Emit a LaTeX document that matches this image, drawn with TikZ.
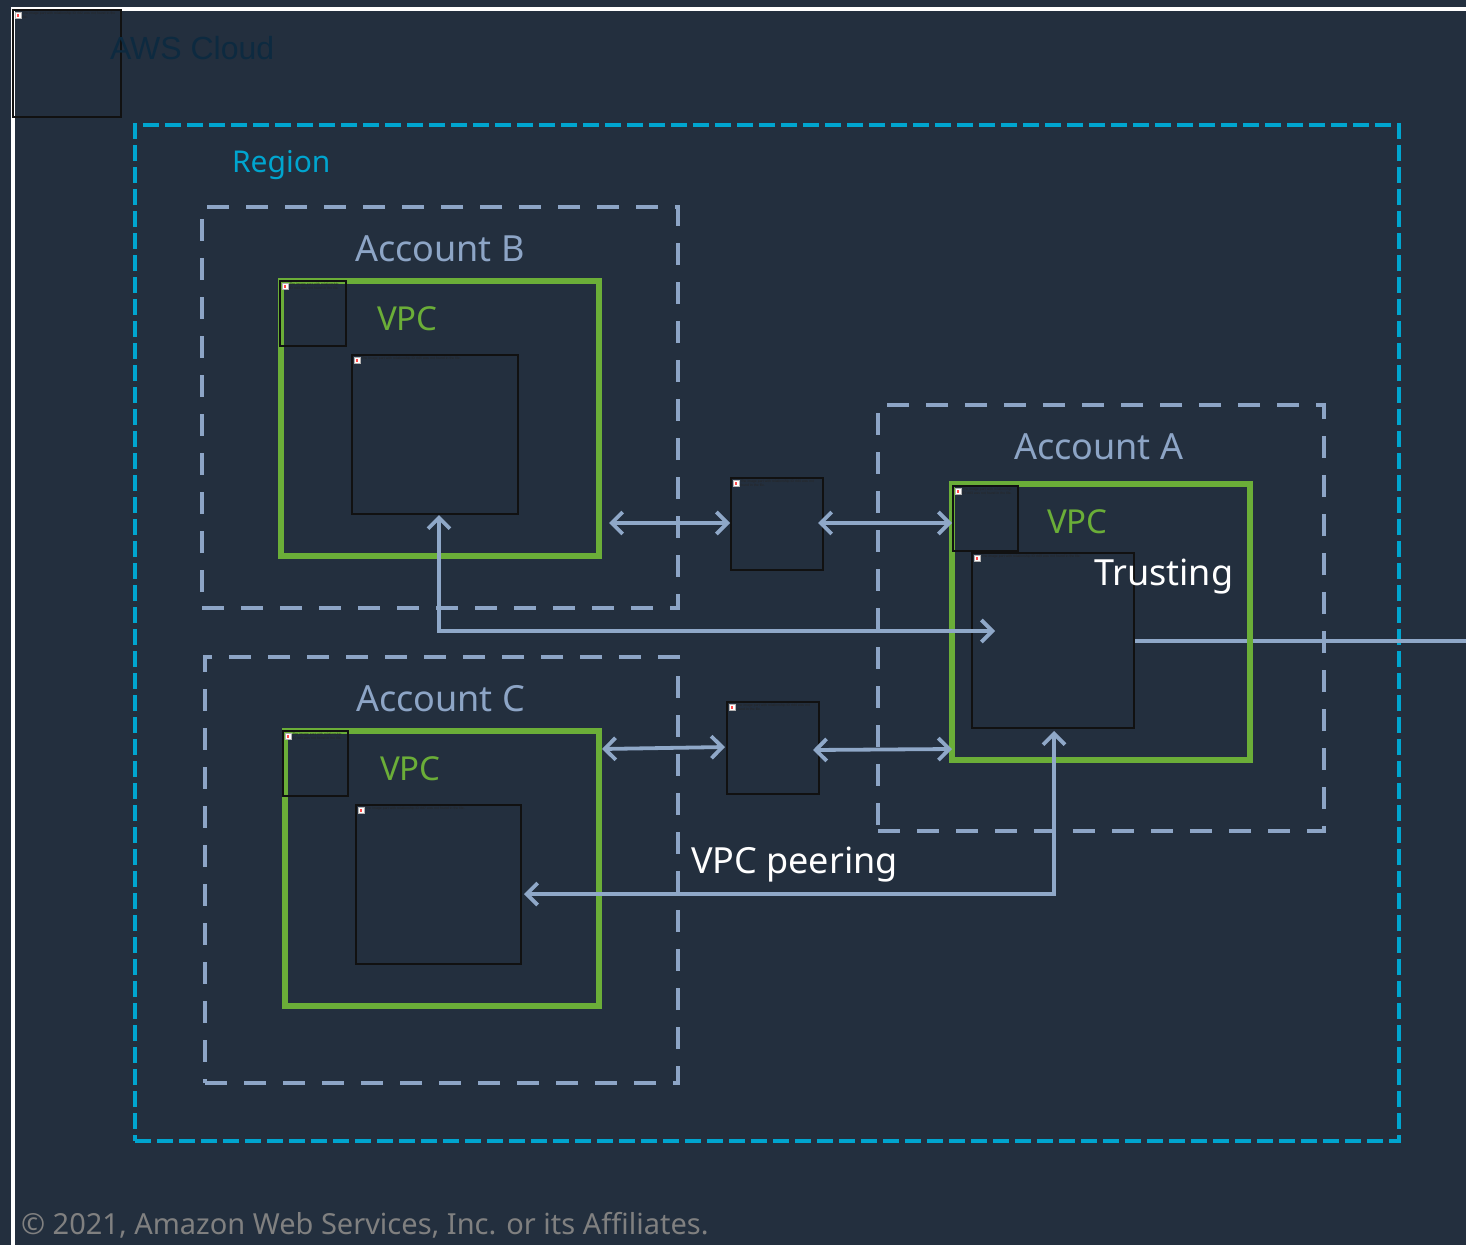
\documentclass[tikz,border=0pt]{standalone}
\usepackage{fontspec}
\usepackage{graphicx}
\setmainfont{Noto Sans}
\newfontfamily\arialf{Liberation Sans}
\usetikzlibrary{arrows.meta,calc}
\definecolor{bg}{HTML}{232F3E}
\definecolor{slate}{HTML}{8DA5C6}
\definecolor{linkc}{HTML}{8FA8C8}
\definecolor{vpcgreen}{HTML}{6BAE38}
\definecolor{regcyan}{HTML}{00A5CF}
\definecolor{awsdark}{HTML}{0D2A40}
\definecolor{copyg}{HTML}{808080}
\definecolor{phline}{HTML}{111111}
\tikzset{
  rbox/.style={anchor=north west, inner sep=0pt, outer sep=0pt},
  regionbox/.style={rbox, draw=regcyan, line width=4.6pt, dash pattern=on 16pt off 6pt},
  acctbox/.style={rbox, draw=slate, line width=4.4pt, dash pattern=on 22pt off 17pt},
  vpcbox/.style={rbox, draw=vpcgreen, line width=5.2pt},
  phbox/.style={rbox, draw=phline, line width=1.4pt},
  phicon/.style={rbox, fill=white, draw=gray!60, line width=0.4pt, minimum width=6pt, minimum height=6pt},
  phtext/.style={rbox, font=\arialf\fontsize{3.4}{4}\selectfont, text=black!85, align=left},
  lbl/.style={anchor=base west, inner sep=0pt, outer sep=0pt},
  conn/.style={draw=linkc, line width=3.8pt, {Straight Barb[length=11pt,width=22pt]}-{Straight Barb[length=11pt,width=22pt]}},
  plainlink/.style={draw=linkc, line width=4pt},
}
\newcommand\rectnode[6]{% style, name, x1, y1, x2, y2
  \node[#1, minimum width=#5-#3, minimum height=#6-#4] (#2) at (#3,#4) {};}
\newcommand\phnode[6]{% name, x, y, w, h, id
  \node[phbox, minimum width=#4, minimum height=#5] (#1) at (#2,#3) {};
  \node[phicon] (#1i) at ($(#1.north west)+(2,2)$) {};
  \fill[red!70] ($(#1i.center)+(-1,-1.5)$) rectangle ($(#1i.center)+(1,1.5)$);
  \node[phtext, text width=#4-13] (#1t) at ($(#1i.north east)+(1.5,0)$) {The image part with relationship ID #6 was not found in the file.};}
\begin{document}
\begin{tikzpicture}[x=1pt,y=-1pt]
\fill[bg] (0,0) rectangle (1466,1245);
\useasboundingbox (0,0) rectangle (1466,1245);
% outer white frame
\draw[white, line width=4.5pt] (13,1245) -- (13,9) -- (1466,9);
\coordinate (edgeR) at (1466,0);
% top-left placeholder and AWS Cloud
\phnode{ph0}{13}{10}{108}{107}{rId2}
\node[lbl, font=\arialf\fontsize{32}{36}\selectfont, text=awsdark] (aws) at (110,59) {AWS Cloud};
% region
\rectnode{regionbox}{region}{135}{125}{1399}{1141}
\node[lbl, font=\fontsize{30}{34}\selectfont, text=regcyan] (regl) at (232,172) {Region};
% accounts
\rectnode{acctbox}{acctB}{202}{207}{678}{608}
\rectnode{acctbox}{acctC}{205}{657}{678}{1083}
\rectnode{acctbox}{acctA}{878}{405}{1324}{831}
\node[lbl, font=\fontsize{36}{40}\selectfont, text=slate] (acctBl) at (355,261) {Account B};
\node[lbl, font=\fontsize{36}{40}\selectfont, text=slate] (acctCl) at (356,711) {Account C};
\node[lbl, font=\fontsize{36}{40}\selectfont, text=slate] (acctAl) at (1014,459) {Account A};
% line to the right edge
\coordinate (innerAe) at (1134,640.5);
\draw[plainlink] (innerAe) -- (innerAe -| edgeR);
% VPCs
\rectnode{vpcbox}{vpcB}{281}{281}{599}{556}
\rectnode{vpcbox}{vpcC}{285}{731}{599}{1006}
\rectnode{vpcbox}{vpcA}{952}{484}{1250}{760}
\node[lbl, font=\fontsize{33}{36}\selectfont, text=vpcgreen] (vpcBl) at (377,330) {VPC};
\node[lbl, font=\fontsize{33}{36}\selectfont, text=vpcgreen] (vpcCl) at (380,780) {VPC};
\node[lbl, font=\fontsize{33}{36}\selectfont, text=vpcgreen] (vpcAl) at (1047,533) {VPC};
% placeholders
\phnode{phB1}{280}{281}{66}{65}{rId3}
\phnode{innerB}{352}{355}{166}{159}{rId5}
\phnode{phC1}{283}{731}{65}{65}{rId3}
\phnode{innerC}{356}{805}{165}{159}{rId7}
\phnode{phA1}{953}{486}{65}{65}{rId3}
\phnode{innerA}{972}{553}{162}{175}{rId9}
\phnode{midB}{731}{478}{92}{92}{rId4}
\phnode{midC}{727}{702}{92}{92}{rId4}
% connectors
\draw[conn] ($(vpcB.east |- midB.west)+(10,-1)$) -- ($(midB.west)+(-1,-1)$);
\draw[conn] ($(midB.east)+(-5,-1)$) -- ($(vpcA.west |- midB.east)+(0,-1)$);
\draw[conn] ($(vpcC.east |- midC.west)+(3,1)$) -- ($(midC.west)+(-2,-1)$);
\draw[conn] ($(midC.east)+(-6,2)$) -- ($(vpcA.west |- midC.east)+(0,1)$);
\coordinate (pA) at (995,631);
\coordinate (pC) at (524,894);
\draw[conn] ($(innerB.south)+(4,1)$) |- (pA);
\draw[conn] ($(innerA.south)+(1,3)$) |- (pC);
% labels
\node[lbl, font=\fontsize{36}{40}\selectfont, text=white] (trust) at (1094,585) {Trusting};
\node[lbl, font=\fontsize{36}{40}\selectfont, text=white] (peer) at (691,873) {VPC peering};
\node[lbl, font=\fontsize{29}{32}\selectfont, text=copyg] (copy) at (21,1234) {© 2021, Amazon Web Services, Inc. or its Affiliates.};
\end{tikzpicture}
\end{document}
